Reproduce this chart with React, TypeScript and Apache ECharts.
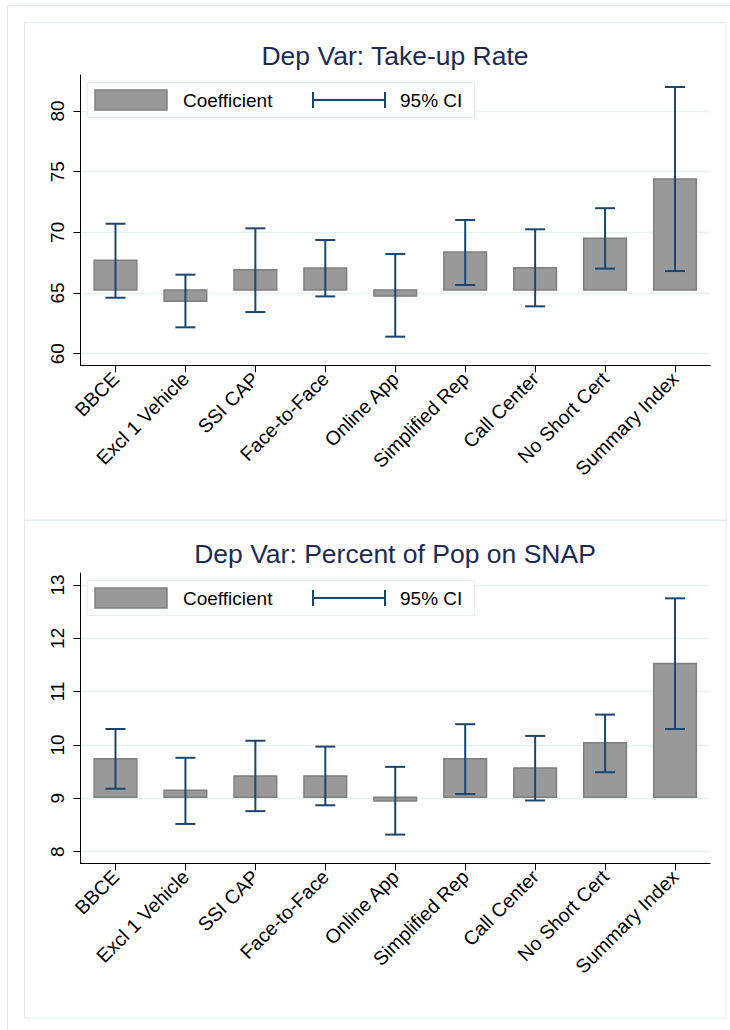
import React, { useEffect, useRef } from "react";
import * as echarts from "echarts";

const categories = [
  "BBCE",
  "Excl 1 Vehicle",
  "SSI CAP",
  "Face-to-Face",
  "Online App",
  "Simplified Rep",
  "Call Center",
  "No Short Cert",
  "Summary Index",
];

const takeupTitle = "Dep Var: Take-up Rate";
const takeupBase = 65.25;
const takeupCoef = [67.7, 64.31, 66.92, 67.06, 64.75, 68.38, 67.09, 69.51, 74.4];
const takeupLow = [64.61, 62.17, 63.43, 64.72, 61.4, 65.66, 63.9, 67.01, 66.81];
const takeupHigh = [70.71, 66.51, 70.33, 69.37, 68.21, 71.02, 70.25, 71.99, 81.98];
const takeupTicks = [60, 65, 70, 75, 80];
const takeupRange = [59.04, 82.97];

const snapTitle = "Dep Var: Percent of Pop on SNAP";
const snapBase = 9.02;
const snapCoef = [9.74, 9.15, 9.42, 9.42, 8.95, 9.74, 9.57, 10.04, 11.53];
const snapLow = [9.18, 8.52, 8.76, 8.87, 8.32, 9.08, 8.96, 9.49, 10.3];
const snapHigh = [10.3, 9.76, 10.08, 9.97, 9.59, 10.39, 10.17, 10.57, 12.75];
const snapTicks = [8, 9, 10, 11, 12, 13];
const snapRange = [7.782, 13.225];

const legendLabels = ["Coefficient", "95% CI"];

const FONT = "'Liberation Sans', Arial, Helvetica, sans-serif";
const BAR_FILL = "#999999";
const BAR_STROKE = "#808080";
const CI_COLOR = "#1a476f";
const TITLE_COLOR = "#1c2b55";
const GRID_COLOR = "#eaf1f3";
const BORDER_COLOR = "#e3ebee";
const PANEL_DY = 498;

const panels = [
  { title: takeupTitle, base: takeupBase, coef: takeupCoef, low: takeupLow, high: takeupHigh, ticks: takeupTicks, range: takeupRange },
  { title: snapTitle, base: snapBase, coef: snapCoef, low: snapLow, high: snapHigh, ticks: snapTicks, range: snapRange },
];

export default function App() {
  const ref = useRef<HTMLDivElement>(null);
  useEffect(() => {
    if (!ref.current) return;
    const chart = echarts.init(ref.current, null, { renderer: "svg" });

    const grids: any[] = [];
    const xAxes: any[] = [];
    const yAxes: any[] = [];
    const series: any[] = [];
    const graphics: any[] = [];

    graphics.push({
      type: "rect",
      silent: true,
      z: -10,
      shape: { x: 7.5, y: 5.5, width: 760, height: 1060 },
      style: { fill: "none", stroke: BORDER_COLOR, lineWidth: 1 },
    });

    panels.forEach((p, k) => {
      const dy = k * PANEL_DY;
      grids.push({ left: 80.5, top: 75 + dy, width: 629.5, height: 290.3, containLabel: false });
      xAxes.push({
        type: "category",
        gridIndex: k,
        data: categories,
        boundaryGap: true,
        axisLine: { show: true, lineStyle: { color: "#000", width: 1 } },
        axisTick: { show: true, alignWithLabel: true, length: 7, lineStyle: { color: "#000" } },
        axisLabel: { interval: 0, rotate: 45, fontSize: 19.5, color: "#000", fontFamily: FONT, margin: 10 },
        splitLine: { show: false },
      });
      yAxes.push({
        type: "value",
        gridIndex: k,
        min: p.range[0],
        max: p.range[1],
        axisLine: { show: true, lineStyle: { color: "#000", width: 1 } },
        axisTick: { show: true, length: 7, customValues: p.ticks, lineStyle: { color: "#000" } },
        axisLabel: { customValues: p.ticks, rotate: 90, fontSize: 19, color: "#000", fontFamily: FONT, margin: 14 },
        splitLine: { show: true, lineStyle: { color: GRID_COLOR, width: 1.3 } },
      });
      series.push({
        type: "custom",
        xAxisIndex: k,
        yAxisIndex: k,
        z: 2,
        encode: { x: 0, y: [1, 2] },
        data: categories.map((_, i) => [i, p.base, p.coef[i]]),
        renderItem: (params: any, api: any) => {
          const i = api.value(0);
          const a = api.coord([i, api.value(1)]);
          const b = api.coord([i, api.value(2)]);
          const w = api.size([1, 0])[0] * 0.61;
          return {
            type: "rect",
            shape: { x: a[0] - w / 2, y: Math.min(a[1], b[1]), width: w, height: Math.abs(b[1] - a[1]) },
            style: { fill: BAR_FILL, stroke: BAR_STROKE, lineWidth: 1.5 },
          };
        },
      });
      series.push({
        type: "custom",
        xAxisIndex: k,
        yAxisIndex: k,
        z: 3,
        encode: { x: 0, y: [1, 2] },
        data: categories.map((_, i) => [i, p.low[i], p.high[i]]),
        renderItem: (params: any, api: any) => {
          const i = api.value(0);
          const lo = api.coord([i, api.value(1)]);
          const hi = api.coord([i, api.value(2)]);
          const cw = 10;
          const st = { stroke: CI_COLOR, lineWidth: 2 };
          return {
            type: "group",
            children: [
              { type: "line", shape: { x1: lo[0], y1: lo[1], x2: hi[0], y2: hi[1] }, style: st },
              { type: "line", shape: { x1: lo[0] - cw, y1: lo[1], x2: lo[0] + cw, y2: lo[1] }, style: st },
              { type: "line", shape: { x1: hi[0] - cw, y1: hi[1], x2: hi[0] + cw, y2: hi[1] }, style: st },
            ],
          };
        },
      });

      graphics.push({
        type: "rect",
        silent: true,
        z: -10,
        shape: { x: 24.5, y: 22.5 + dy, width: 701.5, height: 497.7 },
        style: { fill: "none", stroke: BORDER_COLOR, lineWidth: 1 },
      });
      graphics.push({
        type: "text",
        x: 395,
        y: 56 + dy,
        z: 60,
        style: {
          text: p.title,
          fontSize: 26.5,
          fontFamily: FONT,
          fill: TITLE_COLOR,
          align: "center",
          verticalAlign: "middle",
          textAlign: "center",
          textVerticalAlign: "middle",
        },
      });
      graphics.push({
        type: "rect",
        z: 50,
        silent: true,
        shape: { x: 87.5, y: 82.5 + dy, width: 387, height: 35 },
        style: { fill: "#ffffff", stroke: "#e6eef0", lineWidth: 1 },
      });
      graphics.push({
        type: "rect",
        z: 51,
        silent: true,
        shape: { x: 95, y: 90 + dy, width: 72, height: 20 },
        style: { fill: BAR_FILL, stroke: BAR_STROKE, lineWidth: 1.5 },
      });
      graphics.push({
        type: "text",
        x: 183,
        y: 100 + dy,
        z: 51,
        style: {
          text: legendLabels[0],
          fontSize: 19,
          fontFamily: FONT,
          fill: "#000",
          align: "left",
          verticalAlign: "middle",
          textAlign: "left",
          textVerticalAlign: "middle",
        },
      });
      graphics.push({
        type: "line",
        z: 51,
        silent: true,
        shape: { x1: 313, y1: 100 + dy, x2: 385, y2: 100 + dy },
        style: { stroke: CI_COLOR, lineWidth: 2 },
      });
      graphics.push({
        type: "line",
        z: 51,
        silent: true,
        shape: { x1: 313, y1: 92 + dy, x2: 313, y2: 108 + dy },
        style: { stroke: CI_COLOR, lineWidth: 2 },
      });
      graphics.push({
        type: "line",
        z: 51,
        silent: true,
        shape: { x1: 385, y1: 92 + dy, x2: 385, y2: 108 + dy },
        style: { stroke: CI_COLOR, lineWidth: 2 },
      });
      graphics.push({
        type: "text",
        x: 400,
        y: 100 + dy,
        z: 51,
        style: {
          text: legendLabels[1],
          fontSize: 19,
          fontFamily: FONT,
          fill: "#000",
          align: "left",
          verticalAlign: "middle",
          textAlign: "left",
          textVerticalAlign: "middle",
        },
      });
    });

    chart.setOption({
      animation: false,
      backgroundColor: "#ffffff",
      textStyle: { fontFamily: FONT },
      grid: grids,
      xAxis: xAxes,
      yAxis: yAxes,
      series,
      graphic: graphics,
    });
    return () => chart.dispose();
  }, []);

  return (
    <div
      ref={ref}
      style={{ position: "absolute", left: 0, top: 0, width: 730, height: 1030, background: "#fff" }}
    />
  );
}
